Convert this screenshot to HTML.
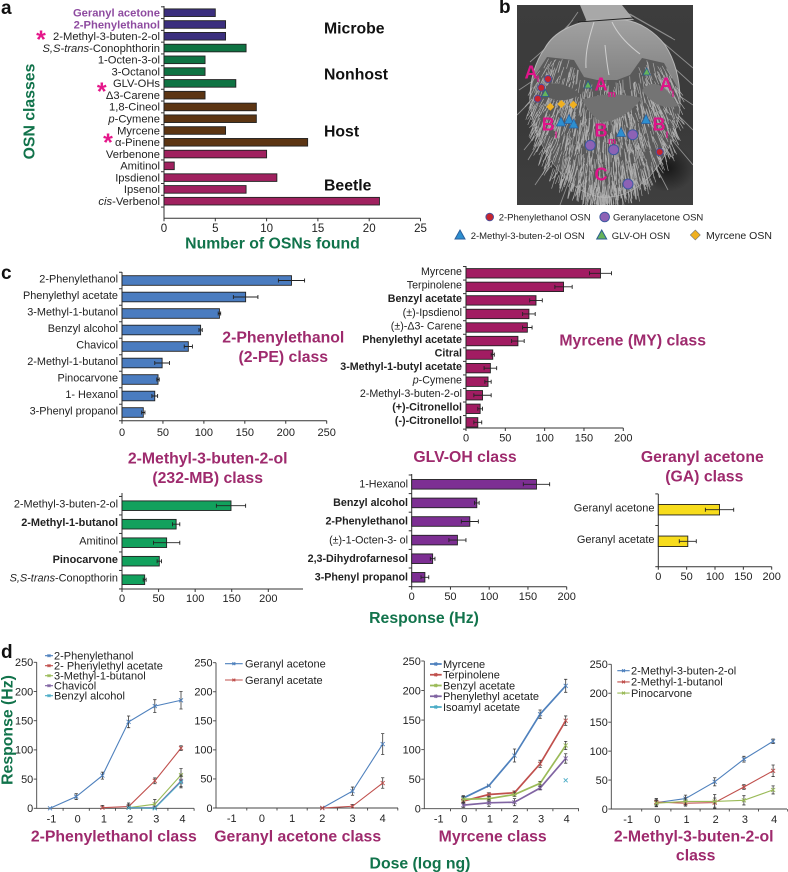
<!DOCTYPE html>
<html lang="en">
<head>
<meta charset="utf-8">
<title>OSN classes figure</title>
<style>
html,body{margin:0;padding:0;background:#fff;}
svg{display:block;font-family:"Liberation Sans",Arial,sans-serif;}
.title{font-size:15.8px;font-weight:bold;fill:#9e2a6d;text-anchor:middle;}
.green{font-size:15.8px;font-weight:bold;fill:#11734b;}
.group{font-size:15.8px;font-weight:bold;fill:#111;}
.panel{font-size:19px;font-weight:bold;fill:#111;}
.pink{font-size:18px;font-weight:bold;fill:#e0148a;text-anchor:middle;}
.sub{font-size:9px;font-weight:bold;fill:#e0148a;text-anchor:middle;}
.star{font-size:25px;font-weight:bold;fill:#e5178a;text-anchor:middle;}
.leg-b{font-size:9.5px;fill:#222;}
</style>
</head>
<body>
<svg id="figure" xmlns="http://www.w3.org/2000/svg" width="788" height="872" viewBox="0 0 788 872">
  <defs>
    <clipPath id="sem-clip"><rect x="517" y="5" width="176" height="200"/></clipPath>
    <linearGradient id="sem-bg" x1="0" y1="0" x2="0" y2="1">
      <stop offset="0" stop-color="#3d3d3d"/><stop offset="0.6" stop-color="#3a3a3a"/><stop offset="1" stop-color="#3f3f3f"/>
    </linearGradient>
    <linearGradient id="dome" x1="0" y1="0" x2="0" y2="1">
      <stop offset="0" stop-color="#a2a2a2"/><stop offset="0.3" stop-color="#868686"/><stop offset="1" stop-color="#6a6a6a"/>
    </linearGradient>
    <radialGradient id="shadow" cx="0.5" cy="0.5" r="0.5">
      <stop offset="0" stop-color="#141414" stop-opacity="0.9"/><stop offset="1" stop-color="#141414" stop-opacity="0"/>
    </radialGradient>
  </defs>

  <text class="panel" x="1" y="14">a</text>
  <text class="panel" x="499" y="13">b</text>
  <text class="panel" x="1" y="279">c</text>
  <text class="panel" x="1" y="658">d</text>

  <g id="panel-a"></g>
  <text class="green" transform="translate(34.5,111.5) rotate(-90)" text-anchor="middle">OSN classes</text>
  <text class="green" x="272.5" y="248.5" text-anchor="middle">Number of OSNs found</text>
  <text class="group" x="324" y="33.5">Microbe</text>
  <text class="group" x="324" y="79.5">Nonhost</text>
  <text class="group" x="324" y="136.5">Host</text>
  <text class="group" x="324" y="190.5">Beetle</text>
  <text class="star" x="41" y="48">*</text>
  <text class="star" x="101.7" y="100">*</text>
  <text class="star" x="108" y="151">*</text>

  <g id="sem" clip-path="url(#sem-clip)">
    <rect x="517" y="5" width="176" height="200" fill="url(#sem-bg)"/>
    <ellipse cx="668" cy="168" rx="26" ry="24" fill="url(#shadow)"/>
    <path id="long-hairs" d="" fill="none" stroke="#8f8f8f" stroke-width="0.9"/>
    <polygon points="580,5 622,5 634,20 587,22" fill="#a8a8a8"/>
    <path d="M590 20C575 24 555 30 545 48C535 62 530 80 530 100C532 140 565 197 606 197C650 197 680 140 680 100C680 80 675 60 665 45C655 32 640 22 625 20Z" fill="url(#dome)" stroke="#b8b8b8" stroke-width="1"/>
    <line x1="578" y1="22" x2="634" y2="18" stroke="#222" stroke-width="1"/>
    <path d="M534 77L547 57L574 60L584 77L597 80L617 80L630 75L642 58L664 63L677 87L680 100C680 140 650 197 606 197C565 197 532 140 530 100Z" fill="#5a5a5a"/>
    <path id="short-hairs" d="" fill="none" stroke="#bdbdbd" stroke-width="0.65" stroke-opacity="0.85"/>
    <path d="M582 100C600 93 620 93 642 98C634 108 622 120 604 122C594 120 588 110 582 100Z" fill="#717171"/>
    <path d="M546 86C558 80 570 86 580 94C570 102 555 102 546 96Z" fill="#5c5c5c"/>
    <path d="M642 90C652 78 666 84 678 106C662 110 650 102 642 90Z" fill="#747474"/>
    <path d="M594 22C590 35 585 50 586 68M612 22C618 35 628 45 640 54M605 45C606 55 607 65 609 75" fill="none" stroke="#cfcfcf" stroke-width="1"/>
  </g>

  <g>
    <text class="pink" x="531" y="78.5">A</text><text class="sub" x="538" y="82">l</text>
    <text class="pink" x="601" y="90.5">A</text><text class="sub" x="611.7" y="97">m</text>
    <text class="pink" x="666" y="90.5">A</text><text class="sub" x="673" y="97">l</text>
    <text class="pink" x="548.3" y="130.5">B</text><text class="sub" x="556" y="138">l</text>
    <text class="pink" x="601" y="136.5">B</text><text class="sub" x="612" y="144">m</text>
    <text class="pink" x="659" y="130.5">B</text><text class="sub" x="667" y="138">l</text>
    <text class="pink" x="601" y="180.5">C</text>
  </g>

  <g>
    <g fill="#c8252f" stroke="#4a4f9a" stroke-width="1">
      <circle cx="548" cy="79" r="3.5"/>
      <circle cx="541.3" cy="87.7" r="3.5"/>
      <circle cx="537.7" cy="98.7" r="3.5"/>
      <circle cx="659.7" cy="152" r="3.5"/>
    </g>
    <g fill="#8d62b5" stroke="#3e5aa0" stroke-width="1">
      <circle cx="590.3" cy="145.3" r="5"/>
      <circle cx="613.7" cy="149.7" r="5"/>
      <circle cx="632.7" cy="134.7" r="5"/>
      <circle cx="628" cy="184" r="5"/>
    </g>
    <g fill="#2d8fd0" stroke="#2b5f9c" stroke-width="0.7">
      <polygon points="561,117 565.5,126 556.5,126"/>
      <polygon points="569,114.5 573.5,123.5 564.5,123.5"/>
      <polygon points="573.7,119 578.2,128 569.2,128"/>
      <polygon points="621,127.5 625.5,136.5 616.5,136.5"/>
      <polygon points="646,114.5 650.5,123.5 641.5,123.5"/>
    </g>
    <g fill="#66b35a" stroke="#2a5a90" stroke-width="0.8">
      <polygon points="545.3,89.5 549,96.5 541.6,96.5"/>
      <polygon points="588,81 591.7,88 584.3,88"/>
      <polygon points="646.7,68 650.4,75 643,75"/>
    </g>
    <g fill="#f0b020">
      <polygon points="550.3,102.7 554.3,106.7 550.3,110.7 546.3,106.7"/>
      <polygon points="561.3,100 565.3,104 561.3,108 557.3,104"/>
      <polygon points="573.3,100.7 577.3,104.7 573.3,108.7 569.3,104.7"/>
    </g>
  </g>

  <g>
    <circle cx="489.7" cy="217" r="3.8" fill="#c8252f" stroke="#4a4f9a"/>
    <text class="leg-b" x="498.7" y="220.5">2-Phenylethanol OSN</text>
    <circle cx="604.7" cy="217" r="4.8" fill="#8d62b5" stroke="#3e5aa0"/>
    <text class="leg-b" x="613" y="220.5">Geranylacetone OSN</text>
    <polygon points="460,230 465,239 455,239" fill="#2d8fd0" stroke="#2b5f9c"/>
    <text class="leg-b" x="470.7" y="239">2-Methyl-3-buten-2-ol OSN</text>
    <polygon points="601.7,230 606.7,239 596.7,239" fill="#66b35a" stroke="#2a5a90"/>
    <text class="leg-b" x="611.7" y="239">GLV-OH OSN</text>
    <polygon points="695.3,230 700.3,235 695.3,240 690.3,235" fill="#f0b020" stroke="#777" stroke-width="0.6"/>
    <text class="leg-b" style="font-size:10.5px" x="706" y="239">Myrcene OSN</text>
  </g>

  <g id="chart-pe"></g>
  <g id="chart-my"></g>
  <g id="chart-mb"></g>
  <g id="chart-glv"></g>
  <g id="chart-ga"></g>

  <text class="title" x="283.3" y="342.5">2-Phenylethanol</text>
  <text class="title" x="283.3" y="362">(2-PE) class</text>
  <text class="title" x="632.7" y="345.5">Myrcene (MY) class</text>
  <text class="title" x="207.7" y="463.5">2-Methyl-3-buten-2-ol</text>
  <text class="title" x="207.7" y="483">(232-MB) class</text>
  <text class="title" x="465" y="462">GLV-OH class</text>
  <text class="title" x="702.3" y="462">Geranyl acetone</text>
  <text class="title" x="704.3" y="481.5">(GA) class</text>
  <text class="green" x="424" y="623" text-anchor="middle">Response (Hz)</text>

  <g id="line-pe"></g>
  <g id="line-ga"></g>
  <g id="line-my"></g>
  <g id="line-mb"></g>

  <text class="green" transform="translate(12.5,730) rotate(-90)" text-anchor="middle">Response (Hz)</text>
  <text class="title" x="113.8" y="841.5">2-Phenylethanol class</text>
  <text class="title" x="297.7" y="841.5">Geranyl acetone class</text>
  <text class="title" x="492.7" y="841.5">Myrcene class</text>
  <text class="title" x="693.7" y="841.5">2-Methyl-3-buten-2-ol</text>
  <text class="title" x="695.7" y="860.5">class</text>
  <text class="green" x="420" y="868.5" text-anchor="middle">Dose (log ng)</text>
</svg>

<script>
/* ---------- Panel a ---------- */
const osnCategories = ['Geranyl acetone','2-Phenylethanol','2-Methyl-3-buten-2-ol','_S,S-trans_-Conophthorin','1-Octen-3-ol','3-Octanol','GLV-OHs','Δ3-Carene','1,8-Cineol','_p_-Cymene','Myrcene','α-Pinene','Verbenone','Amitinol','Ipsdienol','Ipsenol','_cis_-Verbenol'];
const osnCounts = [5,6,6,8,4,4,7,4,9,9,6,14,10,1,11,8,21];
const osnGroups = ['microbe','microbe','microbe','nonhost','nonhost','nonhost','nonhost','host','host','host','host','host','beetle','beetle','beetle','beetle','beetle'];
const osnTicks = [0,5,10,15,20,25];

/* ---------- Panel c ---------- */
const peCategories = ['2-Phenylethanol','Phenylethyl acetate','3-Methyl-1-butanol','Benzyl alcohol','Chavicol','2-Methyl-1-butanol','Pinocarvone','1- Hexanol','3-Phenyl propanol'];
const peValues = [207,151,119,96,81,49,44,40,26];
const peErrors = [16,15,1.5,2,5,9,1.5,3.5,2];
const peTicks = [0,50,100,150,200,250];
const peStrong = [];

const myCategories = ['Myrcene','Terpinolene','Benzyl acetate','(±)-Ipsdienol','(±)-Δ3- Carene','Phenylethyl acetate','Citral','3-Methyl-1-butyl acetate','_p_-Cymene','2-Methyl-3-buten-2-ol','(+)-Citronellol','(-)-Citronellol'];
const myValues = [171,124,89,80,78,66,34,31,28,21,18,15];
const myErrors = [14,11,8,8,6,8,2,8,4,11,3,5];
const myTicks = [0,50,100,150,200];
const myStrong = [2,5,6,7,10,11];

const mbCategories = ['2-Methyl-3-buten-2-ol','2-Methyl-1-butanol','Amitinol','Pinocarvone','_S,S-trans_-Conopthorin'];
const mbValues = [149,74,61,51,31];
const mbErrors = [20,5,18,3,2];
const mbTicks = [0,50,100,150,200];
const mbStrong = [1,3];

const glvCategories = ['1-Hexanol','Benzyl alcohol','2-Phenylethanol','(±)-1-Octen-3- ol','2,3-Dihydrofarnesol','3-Phenyl propanol'];
const glvValues = [161,84,75,59,27,17];
const glvErrors = [17,3,11,11,3,5];
const glvTicks = [0,50,100,150,200];
const glvStrong = [1,2,4,5];

const gaCategories = ['Geranyl acetone','Geranyl acetate'];
const gaValues = [108,52];
const gaErrors = [25,15];
const gaTicks = [0,50,100,150,200];
const gaStrong = [];

/* ---------- Panel d ---------- */
const doseLabels = [-1,0,1,2,3,4];
const responseTicks = [0,50,100,150,200,250];

const lpNames = ['2-Phenylethanol','2- Phenylethyl acetate','3-Methyl-1-butanol','Chavicol','Benzyl alcohol'];
const lpPhenylethanol = [0,20,56,148,175,185];
const lpPhenylethanolErr = [0,5,6,10,11,15];
const lpAcetate = [null,null,1,3,47,103];
const lpAcetateErr = [0,0,4,6,5,4];
const lpMethylbutanol = [null,null,null,1,7,57];
const lpMethylbutanolErr = [0,0,0,5,8,11];
const lpChavicol = [null,null,null,1,1,47];
const lpChavicolErr = [0,0,0,1,2,10];
const lpBenzyl = [null,null,null,1,0,45];
const lpBenzylErr = [0,0,0,1,1,10];

const lgNames = ['Geranyl acetone','Geranyl acetate'];
const lgAcetone = [null,null,null,0,29,110];
const lgAcetoneErr = [0,0,0,1,7,18];
const lgAcetate = [null,null,null,0,3,43];
const lgAcetateErr = [0,0,0,1,3,9];

const lmNames = ['Myrcene','Terpinolene','Benzyl acetate','Phenylethyl acetate','Isoamyl acetate'];
const lmMyrcene = [null,18,39,90,160,208];
const lmMyrceneErr = [0,4,1,11,7,11];
const lmTerpinolene = [null,13,24,27,76,149];
const lmTerpinoleneErr = [0,4,3,3,6,8];
const lmBenzyl = [null,16,17,24,43,107];
const lmBenzylErr = [0,5,4,3,3,7];
const lmPhenylethyl = [null,6,10,11,35,85];
const lmPhenylethylErr = [0,4,6,6,3,8];
const lmIsoamyl = [null,null,null,null,null,48];
const lmIsoamylErr = [0,0,0,0,0,0];

const lbNames = ['2-Methyl-3-buten-2-ol','2-Methyl-1-butanol','Pinocarvone'];
const lbMethylbutenol = [null,11,18,47,86,117];
const lbMethylbutenolErr = [0,7,6,7,5,4];
const lbMethylbutanol = [null,12,10,11,38,66];
const lbMethylbutanolErr = [0,5,5,8,4,10];
const lbPinocarvone = [null,10,13,13,15,33];
const lbPinocarvoneErr = [0,5,6,12,8,7];

const seriesColors = ['#4f81bd','#c0504d','#9bbb59','#8064a2','#4bacc6'];
const groupColors = {microbe:'#3b2f7e', nonhost:'#0f7343', host:'#5c3513', beetle:'#a0215f'};

const NS = 'http://www.w3.org/2000/svg';
function make(parent, tag, attrs) {
  const el = document.createElementNS(NS, tag);
  for (const k in attrs) el.setAttribute(k, attrs[k]);
  parent.appendChild(el);
  return el;
}
function makeLabel(parent, x, y, str, attrs) {
  const el = make(parent, 'text', Object.assign({x: x, y: y}, attrs));
  str.split('_').forEach(function (part, i) {
    if (!part) return;
    const t = make(el, 'tspan', {});
    if (i % 2) t.setAttribute('font-style', 'italic');
    t.textContent = part;
  });
  return el;
}
function slug(s) {
  return String(s).toLowerCase().replace(/[^a-z0-9]+/g, '-').replace(/^-|-$/g, '');
}

/* Horizontal bar chart shared by panels a and c */
function barChart(cfg) {
  const g = document.getElementById(cfg.id);
  const xScale = function (v) { return cfg.x0 + (v / cfg.tMax) * (cfg.xMaxPx - cfg.x0); };
  const yScale = function (i) { return cfg.firstY + i * cfg.step; };
  const axis = make(g, 'path', {
    d: 'M' + cfg.x0 + ' ' + cfg.top + 'V' + cfg.bottom + 'H' + (cfg.axisEnd || cfg.xMaxPx),
    fill: 'none', stroke: '#333', 'stroke-width': 1
  });
  
  

  cfg.ticks.forEach(function (t) {
    const tk = make(g, 'line', {x1: xScale(t), x2: xScale(t), y1: cfg.bottom, y2: cfg.bottom + 3, stroke: '#333', 'stroke-width': 1});
    
    
    const lb = make(g, 'text', {x: xScale(t), y: cfg.tickY, 'font-size': cfg.tickSize || 11, fill: '#222', 'text-anchor': 'middle'});
    lb.textContent = t;
    
    
  });

  for (let i = 0; i <= cfg.cats.length; i++) {
    const ty = i === cfg.cats.length && cfg.lastTickAtBottom ? cfg.bottom : yScale(i) - cfg.step / 2;
    const tk = make(g, 'line', {x1: cfg.x0 - 3, x2: cfg.x0, y1: ty, y2: ty, stroke: '#333', 'stroke-width': 1});
    
    
  }

  cfg.cats.forEach(function (c, i) {
    const y = yScale(i);
    const color = cfg.colorOf ? cfg.colorOf(i) : cfg.color;
    const bar = make(g, 'rect', {
      x: cfg.x0, y: y - cfg.barH / 2, width: xScale(cfg.vals[i]) - cfg.x0, height: cfg.barH,
      fill: color, stroke: '#222', 'stroke-width': 0.9
    });
    
    

    if (cfg.errs) {
      const lo = xScale(Math.max(0, cfg.vals[i] - cfg.errs[i]));
      const hi = xScale(cfg.vals[i] + cfg.errs[i]);
      const eb = make(g, 'path', {
        d: 'M' + lo + ' ' + y + 'H' + hi + 'M' + lo + ' ' + (y - 2) + 'V' + (y + 2) + 'M' + hi + ' ' + (y - 2) + 'V' + (y + 2),
        fill: 'none', stroke: '#222', 'stroke-width': 0.9
      });
      
      
    }

    const strong = cfg.strong && cfg.strong.indexOf(i) >= 0;
    const lbl = makeLabel(g, cfg.labelX, y + (cfg.labelDy || 3.8), c, {
      'font-size': cfg.labelSize, 'text-anchor': 'end',
      'font-weight': strong ? 'bold' : 'normal',
      fill: cfg.labelColorOf && cfg.labelColorOf(i) || '#222'
    });
    
    
  });
}

barChart({id:'panel-a', name:'osn-count', cats:osnCategories, vals:osnCounts, ticks:osnTicks, tMax:25,
  x0:164, xMaxPx:420.5, top:6, bottom:218.3, firstY:12.7, step:11.78, barH:7.6, tickY:232, tickSize:11.5,
  labelX:160, labelSize:11.2, strong:[0,1],
  colorOf:function(i){return groupColors[osnGroups[i]];},
  labelColorOf:function(i){return i<2?'#8e4ba0':null;}});

barChart({id:'chart-pe', name:'phenylethanol', cats:peCategories, vals:peValues, errs:peErrors, ticks:peTicks, tMax:250,
  x0:122, xMaxPx:326.7, top:272, bottom:420.7, firstY:280.5, step:16.5, barH:9.6, tickY:436,
  labelX:118, labelSize:10.9, strong:peStrong, color:'#4a7cc0', labelDy:1.8});

barChart({id:'chart-my', name:'myrcene', cats:myCategories, vals:myValues, errs:myErrors, ticks:myTicks, tMax:200,
  x0:466, xMaxPx:623.3, top:266, bottom:428, firstY:273.3, step:13.55, barH:9.4, tickY:441.5,
  labelX:462, labelSize:10.7, strong:myStrong, color:'#a21c62', labelDy:1.8});

barChart({id:'chart-mb', name:'methylbutenol', cats:mbCategories, vals:mbValues, errs:mbErrors, ticks:mbTicks, tMax:200,
  x0:122, xMaxPx:268.3, axisEnd:303, top:493, bottom:589, firstY:505.7, step:18.5, barH:9.6, tickY:602,
  labelX:118, labelSize:10.9, strong:mbStrong, color:'#12a15d', labelDy:1.6});

barChart({id:'chart-glv', name:'glv-oh', cats:glvCategories, vals:glvValues, errs:glvErrors, ticks:glvTicks, tMax:200,
  x0:411.7, xMaxPx:566.7, top:474, bottom:586.7, firstY:484.3, step:18.6, barH:9.6, tickY:600,
  labelX:408, labelSize:10.7, strong:glvStrong, color:'#7d2f93', labelDy:3.2});

barChart({id:'chart-ga', name:'geranyl-acetone', cats:gaCategories, vals:gaValues, errs:gaErrors, ticks:gaTicks, tMax:200,
  x0:658.3, xMaxPx:771.7, top:494, bottom:566.7, firstY:509.7, step:31.6, barH:10.5, tickY:580,
  labelX:654.5, labelSize:11, strong:gaStrong, color:'#f7dc1c', lastTickAtBottom:true, labelDy:1.8});

/* Dose–response line chart */
function lineChart(cfg) {
  const g = document.getElementById(cfg.id);
  const xScale = function (i) { return cfg.xFirst + i * cfg.xStep; };
  const yScale = function (v) { return cfg.y0 - (v / 250) * (cfg.y0 - cfg.y250); };

  const axis = make(g, 'path', {
    d: 'M' + cfg.axisX + ' ' + cfg.y250 + 'V' + cfg.y0 + 'H' + cfg.axisEnd,
    fill: 'none', stroke: '#444', 'stroke-width': 0.9
  });
  
  

  responseTicks.forEach(function (t) {
    const tk = make(g, 'line', {x1: cfg.axisX - 3, x2: cfg.axisX, y1: yScale(t), y2: yScale(t), stroke: '#444', 'stroke-width': 0.9});
    
    
    const lb = make(g, 'text', {x: cfg.axisX - 3.5, y: yScale(t) + 3.8, 'font-size': 10.9, fill: '#222', 'text-anchor': 'end'});
    lb.textContent = t;
    
    
  });

  doseLabels.forEach(function (d, i) {
    const tk = make(g, 'line', {x1: xScale(i) + cfg.xStep / 2, x2: xScale(i) + cfg.xStep / 2, y1: cfg.y0, y2: cfg.y0 + 2.5, stroke: '#444', 'stroke-width': 0.9});
    
    
    const lb = make(g, 'text', {x: xScale(i) + cfg.labelShift, y: cfg.y0 + 14, 'font-size': 10.9, fill: '#222', 'text-anchor': 'middle'});
    lb.textContent = d;
    
    
  });

  cfg.series.forEach(function (s, k) {
    const color = seriesColors[k];
    const nm = slug(cfg.names[k]);
    let d = '';
    s.vals.forEach(function (v, i) {
      if (v === null) return;
      d += (d ? 'L' : 'M') + xScale(i) + ' ' + yScale(v);
    });
    if (d.indexOf('L') >= 0) {
      const line = make(g, 'path', {d: d, fill: 'none', stroke: color, 'stroke-width': cfg.width});
      
      
    }
    s.vals.forEach(function (v, i) {
      if (v === null) return;
      const x = xScale(i), y = yScale(v), e = s.errs[i];
      if (e > 0) {
        const top = yScale(v + e), bot = yScale(Math.max(0, v - e));
        const eb = make(g, 'path', {
          d: 'M' + x + ' ' + top + 'V' + bot + 'M' + (x - 1.6) + ' ' + top + 'H' + (x + 1.6) + 'M' + (x - 1.6) + ' ' + bot + 'H' + (x + 1.6),
          fill: 'none', stroke: '#3a3a3a', 'stroke-width': 0.8
        });
        
        
      }
      const pt = make(g, 'path', {
        d: 'M' + (x - 2) + ' ' + (y - 2) + 'l4 4M' + (x - 2) + ' ' + (y + 2) + 'l4 -4',
        fill: 'none', stroke: color, 'stroke-width': 0.9
      });
      
      
    });

    const ly = cfg.legendY + k * cfg.legendStep;
    const swatch = make(g, 'path', {
      d: 'M' + cfg.legX0 + ' ' + ly + 'H' + cfg.legX1 + 'M' + ((cfg.legX0 + cfg.legX1) / 2 - 1.4) + ' ' + (ly - 1.4) + 'l2.8 2.8m0 -2.8l-2.8 2.8',
      fill: 'none', stroke: color, 'stroke-width': cfg.width
    });
    
    
    const lt = make(g, 'text', {x: cfg.legText, y: ly + 3.8, 'font-size': 11, fill: '#222'});
    lt.textContent = cfg.names[k];
    
    
  });
}

lineChart({id:'line-pe', name:'phenylethanol-dose', names:lpNames, width:1.1,
  xFirst:50, xStep:26.2, y0:808.3, y250:662.3, axisX:36.7, axisEnd:194, labelShift:1.5,
  legendY:655.7, legendStep:10, legX0:45, legX1:53, legText:54,
  series:[{vals:lpPhenylethanol,errs:lpPhenylethanolErr},{vals:lpAcetate,errs:lpAcetateErr},{vals:lpMethylbutanol,errs:lpMethylbutanolErr},{vals:lpChavicol,errs:lpChavicolErr},{vals:lpBenzyl,errs:lpBenzylErr}]});

lineChart({id:'line-ga', name:'geranyl-acetone-dose', names:lgNames, width:1.1,
  xFirst:231.7, xStep:30.2, y0:808, y250:662.7, axisX:216, axisEnd:398, labelShift:0,
  legendY:663.7, legendStep:16.3, legX0:225, legX1:242.7, legText:245,
  series:[{vals:lgAcetone,errs:lgAcetoneErr},{vals:lgAcetate,errs:lgAcetateErr}]});

lineChart({id:'line-my', name:'myrcene-dose', names:lmNames, width:1.7,
  xFirst:437.7, xStep:25.6, y0:808.7, y250:661, axisX:424.3, axisEnd:579, labelShift:1,
  legendY:664, legendStep:10.75, legX0:430, legX1:441.7, legText:443,
  series:[{vals:lmMyrcene,errs:lmMyrceneErr},{vals:lmTerpinolene,errs:lmTerpinoleneErr},{vals:lmBenzyl,errs:lmBenzylErr},{vals:lmPhenylethyl,errs:lmPhenylethylErr},{vals:lmIsoamyl,errs:lmIsoamylErr}]});

lineChart({id:'line-mb', name:'methylbutenol-dose', names:lbNames, width:1.1,
  xFirst:627.1, xStep:29.2, y0:809, y250:664.3, axisX:611.3, axisEnd:787, labelShift:1,
  legendY:670.7, legendStep:11.2, legX0:617.3, legX1:629.7, legText:631,
  series:[{vals:lbMethylbutenol,errs:lbMethylbutenolErr},{vals:lbMethylbutanol,errs:lbMethylbutanolErr},{vals:lbPinocarvone,errs:lbPinocarvoneErr}]});

/* Micrograph texture (decorative, not data) */
(function () {
  function h(i) { const s = Math.sin(i * 12.9898) * 43758.5453; return s - Math.floor(s); }
  const edgeX = [530,534,547,574,584,597,617,630,642,664,677,680];
  const edgeY = [100,77,57,60,77,80,80,75,58,63,87,100];
  function bandTop(x) {
    for (let i = 1; i < edgeX.length; i++) {
      if (x <= edgeX[i]) {
        const t = (x - edgeX[i - 1]) / (edgeX[i] - edgeX[i - 1]);
        return edgeY[i - 1] + t * (edgeY[i] - edgeY[i - 1]);
      }
    }
    return 100;
  }
  function halfWidth(y) {
    const t = (y - 100) / 97;
    if (t <= 0) return 74;
    return 74 * Math.sqrt(Math.max(0, 1 - t * t));
  }
  let d = '';
  for (let i = 1; i < 1300; i++) {
    const y = 56 + h(i) * 141;
    const w = halfWidth(y);
    const x = 605 - w + h(i + 1000) * 2 * w;
    if (y < bandTop(x)) continue;
    const len = 7 + h(i + 2000) * 9;
    const dx = (x - 605) * 0.08 + (h(i + 3000) - 0.5) * 3;
    d += 'M' + x.toFixed(1) + ' ' + y.toFixed(1) + 'l' + dx.toFixed(1) + ' ' + len.toFixed(1);
  }
  document.getElementById('short-hairs').setAttribute('d', d);
  const longHairs =
    'M534 80L519 90M532 100L517 115M540 130L524 150M552 160L535 185M540 140L528 160M660 40L693 68M678 95L693 105M678 115L693 130M672 140L693 165' +
    'M655 165L668 190M620 190L624 205M590 190L586 205M610 195L612 205M570 178L560 205M578 12L555 45M573 20L545 50M555 40L530 62M622 10L675 40M630 14L672 38M660 55L693 85';
  document.getElementById('long-hairs').setAttribute('d', longHairs);
})();
</script>
</body>
</html>
